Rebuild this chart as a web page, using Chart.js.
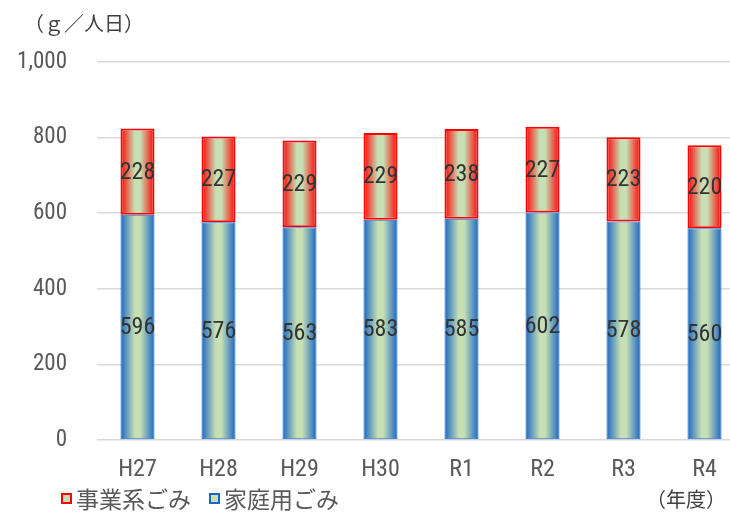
<!DOCTYPE html>
<html lang="ja">
  <head>
    <meta charset="UTF-8" />
    <title>ごみ排出量</title>
    <style>
      html, body { margin: 0; padding: 0; background: #fff; overflow: hidden; }
      #wrap { width: 745px; height: 512px; }
    </style>
  </head>
  <body>
    <div id="wrap">
      <canvas id="myChart" width="745" height="512"></canvas>
    </div>

    <script src="https://cdn.jsdelivr.net/npm/chart.js"></script>
    <script>
      const years = ["H27", "H28", "H29", "H30", "R1", "R2", "R3", "R4"];
      const katei = [596, 576, 563, 583, 585, 602, 578, 560];
      const jigyo = [228, 227, 229, 229, 238, 227, 223, 220];
      const yTicks = [0, 200, 400, 600, 800, 1000];

      const numFont = "'Roboto Condensed', 'DejaVu Sans Condensed', sans-serif";
      const jpFont = "'Noto Sans CJK JP', sans-serif";
      const barPct = 0.42;
      const green = "#c6e0b4";
      const blue = "#1a66c4";
      const red = "#ff0000";

      // horizontal gradient per bar, edges -> green centre -> edges
      function barGradient(edge) {
        return function (c) {
          const chart = c.chart;
          if (!chart.chartArea || c.dataIndex === undefined) return edge;
          const xs = chart.scales.x;
          const cx = xs.getPixelForValue(c.dataIndex);
          const half = (xs.width / years.length) * barPct / 2;
          const g = chart.ctx.createLinearGradient(cx - half, 0, cx + half, 0);
          g.addColorStop(0, edge);
          g.addColorStop(0.42, green);
          g.addColorStop(0.58, green);
          g.addColorStop(1, edge);
          return g;
        };
      }

      // numbers in the middle of each segment + extra texts + legend
      const extras = {
        id: "extras",
        afterDatasetsDraw(chart) {
          const ctx = chart.ctx;
          ctx.save();
          ctx.fillStyle = "#333333";
          ctx.font = "24px " + numFont;
          ctx.textAlign = "center";
          ctx.textBaseline = "middle";
          chart.data.datasets.forEach((ds, i) => {
            chart.getDatasetMeta(i).data.forEach((bar, j) => {
              ctx.fillText(ds.data[j], bar.x, (bar.y + bar.base) / 2 + 1);
            });
          });
          ctx.restore();
        },
        afterDraw(chart) {
          const ctx = chart.ctx;
          ctx.save();
          ctx.fillStyle = "#404040";
          ctx.textBaseline = "middle";
          ctx.textAlign = "left";
          ctx.font = "20px " + jpFont;
          ctx.fillText("（ｇ／人日）", 24, 23);
          ctx.fillText("（年度）", 646, 499);

          // legend
          const items = [
            { text: "事業系ごみ", color: red, x: 62 },
            { text: "家庭用ごみ", color: blue, x: 210 },
          ];
          ctx.font = "23px " + jpFont;
          items.forEach((it) => {
            ctx.fillStyle = green;
            ctx.fillRect(it.x, 494, 9, 9);
            ctx.strokeStyle = it.color;
            ctx.lineWidth = 2;
            ctx.strokeRect(it.x, 494, 9, 9);
            ctx.fillStyle = "#595959";
            ctx.fillText(it.text, it.x + 14, 499);
          });
          ctx.restore();
        },
      };

      const ctx = document.getElementById("myChart").getContext("2d");
      const myChart = new Chart(ctx, {
        type: "bar",
        data: {
          labels: years,
          datasets: [
            {
              label: "家庭用ごみ",
              data: katei,
              backgroundColor: barGradient(blue),
              borderColor: blue,
              borderWidth: 1,
              borderSkipped: false,
              categoryPercentage: 1,
              barPercentage: barPct,
            },
            {
              label: "事業系ごみ",
              data: jigyo,
              backgroundColor: barGradient(red),
              borderColor: red,
              borderWidth: 2,
              borderSkipped: false,
              categoryPercentage: 1,
              barPercentage: barPct,
            },
          ],
        },
        options: {
          responsive: false,
          animation: false,
          layout: { padding: { top: 62, bottom: 32, left: 0, right: 0 } },
          plugins: {
            legend: { display: false },
            tooltip: { enabled: false },
          },
          scales: {
            x: {
              stacked: true,
              grid: { display: false },
              border: { display: false },
              ticks: {
                color: "#595959",
                padding: 8,
                font: { family: numFont, size: 24 },
              },
              afterFit(s) { s.height = 40; },
            },
            y: {
              stacked: true,
              min: 0,
              max: 1000,
              afterBuildTicks(s) { s.ticks = yTicks.map((v) => ({ value: v })); },
              grid: { color: "#d9d9d9", lineWidth: 1.5, drawTicks: false },
              border: { display: false },
              ticks: {
                color: "#595959",
                padding: 30,
                font: { family: numFont, size: 23 },
                callback: (v) => v.toLocaleString("en-US"),
              },
              afterFit(s) { s.width = 97; },
            },
          },
        },
        plugins: [extras],
      });
    </script>
  </body>
</html>
